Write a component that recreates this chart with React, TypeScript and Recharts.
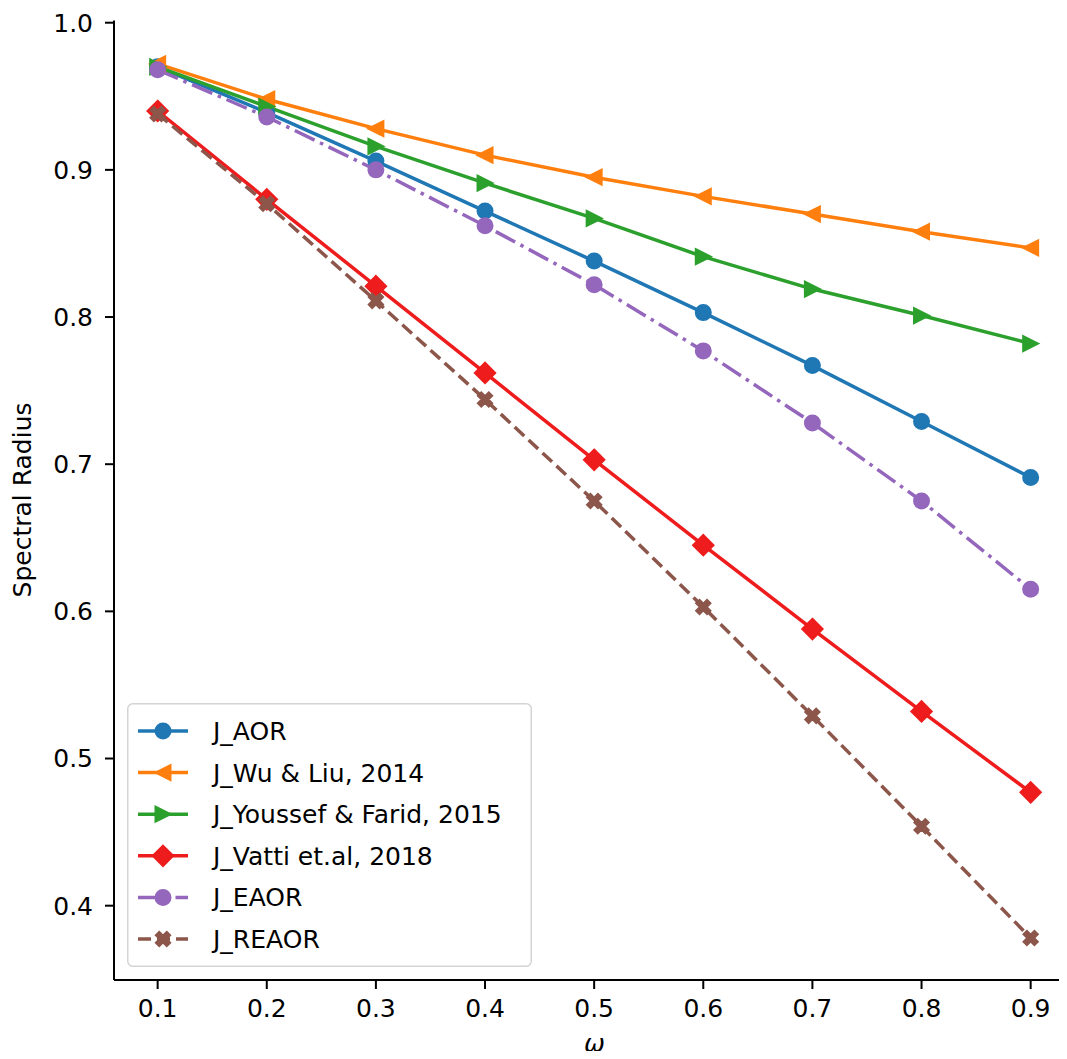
import React from 'react';
import { LineChart, Line, XAxis, YAxis, Legend } from 'recharts';

const omega = [0.1, 0.2, 0.3, 0.4, 0.5, 0.6, 0.7, 0.8, 0.9];
const jAOR = [0.970, 0.939, 0.906, 0.872, 0.838, 0.803, 0.767, 0.729, 0.691];
const jWuLiu = [0.972, 0.948, 0.928, 0.910, 0.895, 0.882, 0.870, 0.858, 0.847];
const jYoussef = [0.970, 0.943, 0.916, 0.891, 0.867, 0.841, 0.819, 0.801, 0.782];
const jVatti = [0.940, 0.880, 0.821, 0.762, 0.703, 0.645, 0.588, 0.532, 0.477];
const jEAOR = [0.968, 0.936, 0.900, 0.862, 0.822, 0.777, 0.728, 0.675, 0.615];
const jREAOR = [0.938, 0.877, 0.811, 0.744, 0.675, 0.603, 0.529, 0.454, 0.378];

const xTicks = [0.1, 0.2, 0.3, 0.4, 0.5, 0.6, 0.7, 0.8, 0.9];
const yTicks = [0.4, 0.5, 0.6, 0.7, 0.8, 0.9, 1.0];

type MarkerType = 'circle' | 'triLeft' | 'triRight' | 'diamond' | 'xFilled';

const series: { key: string; name: string; color: string; marker: MarkerType; dash?: string }[] = [
  { key: 'aor', name: 'J_AOR', color: '#1f77b4', marker: 'circle' },
  { key: 'wu', name: 'J_Wu & Liu, 2014', color: '#ff7f0e', marker: 'triLeft' },
  { key: 'youssef', name: 'J_Youssef & Farid, 2015', color: '#2ca02c', marker: 'triRight' },
  { key: 'vatti', name: 'J_Vatti et.al, 2018', color: '#ee1c1c', marker: 'diamond' },
  { key: 'eaor', name: 'J_EAOR', color: '#9467bd', marker: 'circle', dash: '22 6 3.5 6' },
  { key: 'reaor', name: 'J_REAOR', color: '#8c564b', marker: 'xFilled', dash: '13 6' },
];

const data = omega.map((w, i) => ({
  w,
  aor: jAOR[i],
  wu: jWuLiu[i],
  youssef: jYoussef[i],
  vatti: jVatti[i],
  eaor: jEAOR[i],
  reaor: jREAOR[i],
}));

const FONT = '"DejaVu Sans", sans-serif';
const FS = 25;

function Marker({ type, cx, cy, color }: { type: MarkerType; cx: number; cy: number; color: string }) {
  const s = 7.5;
  const common = { fill: color, stroke: color, strokeWidth: 2, strokeLinejoin: 'miter' as const };
  if (type === 'circle') return <circle cx={cx} cy={cy} r={s} {...common} />;
  if (type === 'triLeft')
    return <polygon points={`${cx - s},${cy} ${cx + s},${cy - s} ${cx + s},${cy + s}`} {...common} />;
  if (type === 'triRight')
    return <polygon points={`${cx + s},${cy} ${cx - s},${cy - s} ${cx - s},${cy + s}`} {...common} />;
  if (type === 'diamond') {
    const d = 10.2;
    return <polygon points={`${cx},${cy - d} ${cx + d},${cy} ${cx},${cy + d} ${cx - d},${cy}`} {...common} />;
  }
  const pts = [
    [-1, -2], [0, -1], [1, -2], [2, -1], [1, 0], [2, 1],
    [1, 2], [0, 1], [-1, 2], [-2, 1], [-1, 0], [-2, -1],
  ]
    .map(([x, y]) => `${cx + x * 3.75},${cy + y * 3.75}`)
    .join(' ');
  return <polygon points={pts} {...common} strokeWidth={1.5} />;
}

function LegendBox() {
  const w = 405;
  const h = 264;
  return (
    <svg width={w} height={h} style={{ display: 'block' }}>
      <rect x={0.75} y={0.75} width={w - 1.5} height={h - 1.5} rx={5} fill="#fff" fillOpacity={0.8} stroke="#d4d4d4" strokeWidth={1.5} />
      {series.map((s, i) => {
        const cy = 28 + i * 41.6;
        return (
          <g key={s.key}>
            <line x1={11} x2={61} y1={cy} y2={cy} stroke={s.color} strokeWidth={3.5} strokeDasharray={s.dash} />
            <Marker type={s.marker} cx={36} cy={cy} color={s.color} />
            <text x={86} y={cy + 9} fontFamily={FONT} fontSize={FS} fill="#000">
              {s.name}
            </text>
          </g>
        );
      })}
    </svg>
  );
}

export default function App() {
  return (
    <div style={{ width: 1051, height: 1043, position: 'relative' }}>
      <style>{'.recharts-surface{overflow:visible}'}</style>
      <LineChart
        width={1059}
        height={1043}
        data={data}
        margin={{ top: 12.5, right: 0, bottom: 11, left: 46 }}
      >
        <XAxis
          dataKey="w"
          type="number"
          domain={[0.06, 0.9333]}
          allowDataOverflow
          ticks={xTicks}
          tickFormatter={(v: number) => v.toFixed(1)}
          height={60}
          tickSize={9}
          tickMargin={10}
          stroke="#000"
          strokeWidth={2}
          tick={{ fill: '#000', fontFamily: FONT, fontSize: FS }}
          label={{
            content: () => (
              <text x={586.5} y={1044} textAnchor="middle" fontFamily={FONT} fontStyle="italic" fontSize={FS} fill="#000">
                ω
              </text>
            ),
          }}
        />
        <XAxis
          xAxisId="top"
          dataKey="w"
          type="number"
          domain={[0.06, 0.9333]}
          allowDataOverflow
          orientation="top"
          height={0}
          tick={false}
          tickLine={false}
          stroke="#000"
          strokeWidth={2}
        />
        <YAxis
          type="number"
          domain={[0.3495, 1.0015]}
          allowDataOverflow
          ticks={yTicks}
          tickFormatter={(v: number) => v.toFixed(1)}
          width={60}
          tickSize={9}
          tickMargin={12}
          stroke="#000"
          strokeWidth={2}
          tick={{ fill: '#000', fontFamily: FONT, fontSize: FS }}
          label={{
            content: () => (
              <text
                x={0}
                y={0}
                transform="translate(23, 492) rotate(-90)"
                textAnchor="middle"
                fontFamily={FONT}
                fontSize={FS}
                fill="#000"
              >
                Spectral Radius
              </text>
            ),
          }}
        />
        {series.map((s) => (
          <Line
            key={s.key}
            dataKey={s.key}
            name={s.name}
            stroke={s.color}
            strokeWidth={3.5}
            strokeDasharray={s.dash}
            isAnimationActive={false}
            dot={(p: any) => <Marker key={`${s.key}-${p.index}`} type={s.marker} cx={p.cx} cy={p.cy} color={s.color} />}
            activeDot={false}
          />
        ))}
        <Legend
          layout="vertical"
          align="center"
          verticalAlign="middle"
          content={() => <LegendBox />}
          wrapperStyle={{ position: 'absolute', left: 119, top: 695, width: 405, height: 264 }}
        />
      </LineChart>
    </div>
  );
}
